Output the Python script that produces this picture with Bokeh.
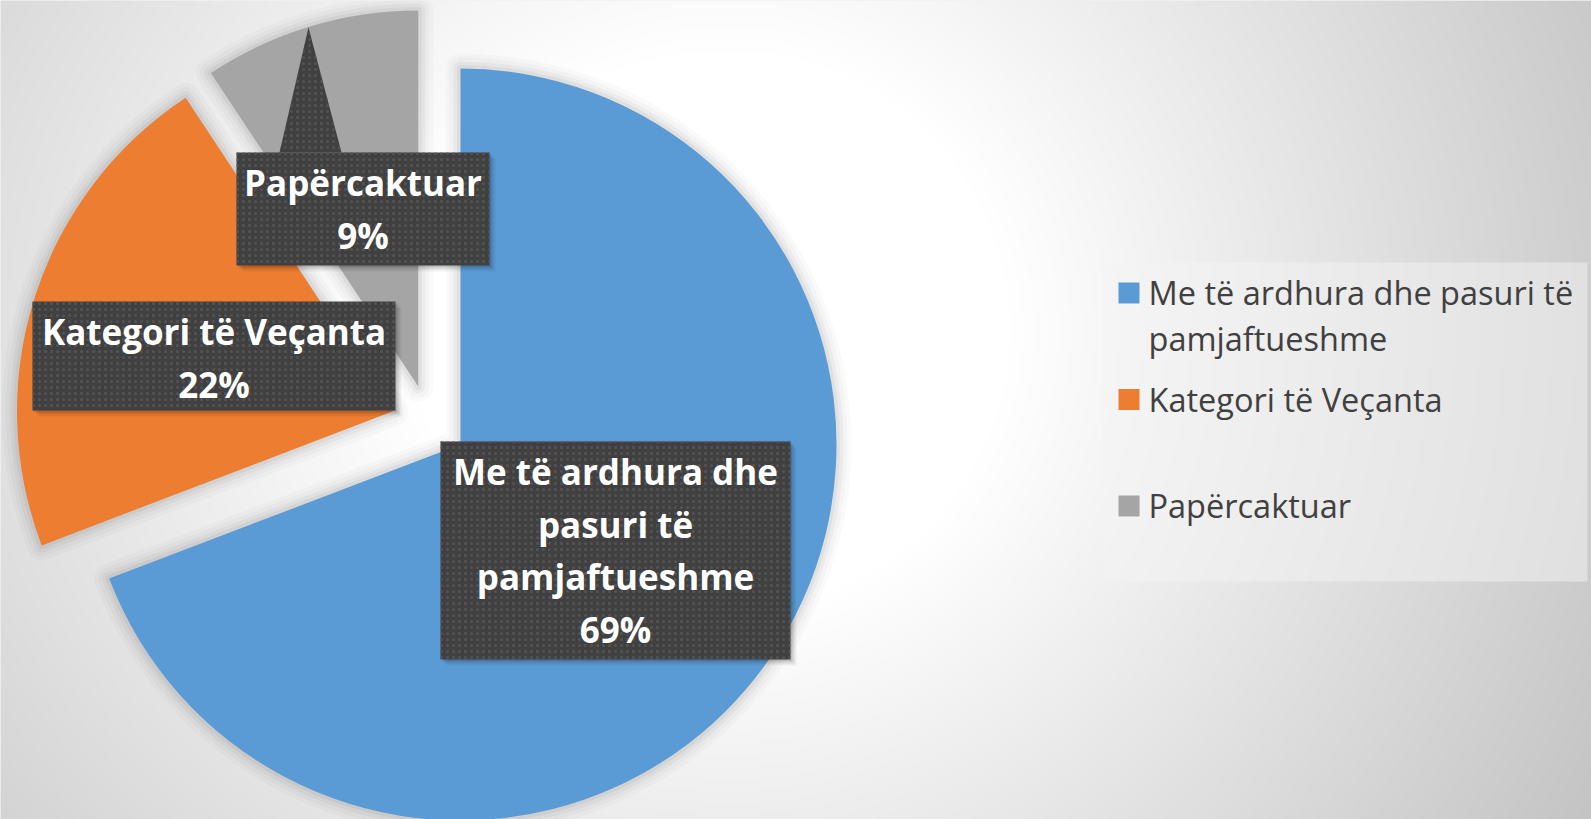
import numpy as np
from bokeh.plotting import figure
from bokeh.models import Range1d, ColumnDataSource
from bokeh.core.properties import value
from bokeh.embed import file_html
from bokeh.resources import INLINE

# ---------------- data ----------------
categories = ["Me të ardhura dhe pasuri të pamjaftueshme", "Kategori të Veçanta", "Papërcaktuar"]
values = [69.2, 21.5, 9.3]
colors = ["#5B9BD5", "#ED7D31", "#A5A5A5"]
pct_labels = ["69%", "22%", "9%"]
label_lines = [["Me të ardhura dhe", "pasuri të", "pamjaftueshme"],
               ["Kategori të Veçanta"],
               ["Papërcaktuar"]]
legend_lines = [["Me të ardhura dhe pasuri të", "pamjaftueshme"],
                ["Kategori të Veçanta"],
                ["Papërcaktuar"]]

# ---------------- layout (reference pixel space, y down) ----------------
W, H = 1591, 819
def fy(y):
    return H - np.asarray(y, dtype=float)

CX, CY = 428.7, 422.5   # pie centre (px)
R = 376.0               # radius (px)
EXPLODE = 38.0          # explosion distance (px)

# label boxes: left, right, top, bottom (px)
boxes = [(440, 790, 441, 659), (32, 395, 301, 410), (236, 489, 152, 265)]
LINE_H = 52.5
FIRST_BASE = 30.0
pointer = [(279, 152), (308, 27), (341, 152)]

# legend
LEG_BOX = (1102, 1587, 262, 581)
LEG_X_SQ = 1118
LEG_SQ = 21
LEG_X_TXT = 1148
LEG_BASE0 = 303
LEG_PITCH = 106.5
LEG_LINE_H = 46
LEG_TXT_SHIFT = -11

p = figure(width=W, height=H,
           x_range=Range1d(0, W), y_range=Range1d(0, H),
           output_backend="svg", toolbar_location=None,
           x_axis_location=None, y_axis_location=None, min_border=0)
p.grid.visible = False
p.outline_line_color = None
p.background_fill_color = "#e6e6e6"
p.border_fill_color = "#e6e6e6"

# ---------------- background gradient ----------------
nx, ny = 398, 205
xs = (np.arange(nx) + 0.5) * W / nx
yd = (np.arange(ny) + 0.5) * H / ny
X, YD = np.meshgrid(xs, yd)
Yr = H - YD
dx = X - 730.0
dx = np.where(dx < 0, dx / 1.15, dx)
dy = Yr - 330.0
d = np.sqrt(dx ** 2 + dy ** 2)
t = np.clip((d - 280.0) / 720.0, 0, 1)
g = (255 - 60 * t).astype(np.uint8)
rgba = np.zeros((ny, nx, 4), dtype=np.uint8)
rgba[..., 0] = g
rgba[..., 1] = g
rgba[..., 2] = g
rgba[..., 3] = 255
img = rgba.view(np.uint32).reshape(ny, nx)
p.image_rgba(image=[img], x=0, y=0, dw=W, dh=H)

# ---------------- pie geometry from values ----------------
vals = np.array(values, dtype=float)
frac = vals / vals.sum()
cum = np.concatenate([[0.0], np.cumsum(frac)])
a0 = np.pi / 2 - 2 * np.pi * cum[:-1]
a1 = np.pi / 2 - 2 * np.pi * cum[1:]
mid = (a0 + a1) / 2
wx = CX + EXPLODE * np.cos(mid)
wy = fy(CY) + EXPLODE * np.sin(mid)
src = ColumnDataSource(dict(x=wx, y=wy, s=a0, e=a1, c=colors, cat=categories))

# soft shadows
for lw, la in [(30, 0.02), (22, 0.025), (14, 0.035), (7, 0.045)]:
    p.wedge(x="x", y="y", radius=R, start_angle="s", end_angle="e", direction="clock",
            source=src, fill_alpha=0, line_color="black", line_alpha=la,
            line_width=lw, line_join="round")

p.wedge(x="x", y="y", radius=R, start_angle="s", end_angle="e", direction="clock",
        source=src, fill_color="c", line_color=None)

# ---------------- data labels ----------------
L = np.array([b[0] for b in boxes], float)
Rr = np.array([b[1] for b in boxes], float)
T = np.array([b[2] for b in boxes], float)
B = np.array([b[3] for b in boxes], float)
for k, a in [(6, 0.05), (4, 0.08), (2, 0.12)]:
    p.quad(left=L + k, right=Rr + k, top=fy(T + k), bottom=fy(B + k),
           fill_color="black", fill_alpha=a, line_color=None)

box_style = dict(fill_color="#404040", line_color=None, hatch_pattern="dot",
                 hatch_color="#535353", hatch_scale=6, hatch_weight=1.0)
p.patch(x=[q[0] for q in pointer], y=fy([q[1] for q in pointer]), **box_style)
p.quad(left=L, right=Rr, top=fy(T), bottom=fy(B), **box_style)

tx, ty, tt = [], [], []
for i in range(len(categories)):
    lines = label_lines[i] + [pct_labels[i]]
    cxb = (boxes[i][0] + boxes[i][1]) / 2
    for j, ln in enumerate(lines):
        tx.append(cxb)
        ty.append(float(fy(boxes[i][2] + FIRST_BASE + j * LINE_H)))
        tt.append(ln)
p.text(x=tx, y=ty, text=tt, text_font=value("Open Sans"), text_font_style="bold",
       text_font_size="35px", text_color="white", text_align="center",
       text_baseline="alphabetic")

# ---------------- legend ----------------
p.quad(left=[LEG_BOX[0]], right=[LEG_BOX[1]], top=fy([LEG_BOX[2]]), bottom=fy([LEG_BOX[3]]),
       fill_color="#f4f4f4", fill_alpha=0.5, line_color=None)
base = np.array([LEG_BASE0 + i * LEG_PITCH for i in range(len(categories))])
p.quad(left=[LEG_X_SQ] * 3, right=[LEG_X_SQ + LEG_SQ] * 3,
       top=fy(base - LEG_SQ), bottom=fy(base), fill_color=colors, line_color=None)
lx, ly, lt = [], [], []
for i in range(len(categories)):
    for j, ln in enumerate(legend_lines[i]):
        lx.append(LEG_X_TXT)
        ly.append(float(fy(base[i] + j * LEG_LINE_H + LEG_TXT_SHIFT)))
        lt.append(ln)
p.text(x=lx, y=ly, text=lt, text_font=value("Open Sans"), text_font_size="32.5px",
       text_color="#404040", text_align="left", text_baseline="alphabetic")

open("out.html", "w").write(file_html(p, INLINE))
